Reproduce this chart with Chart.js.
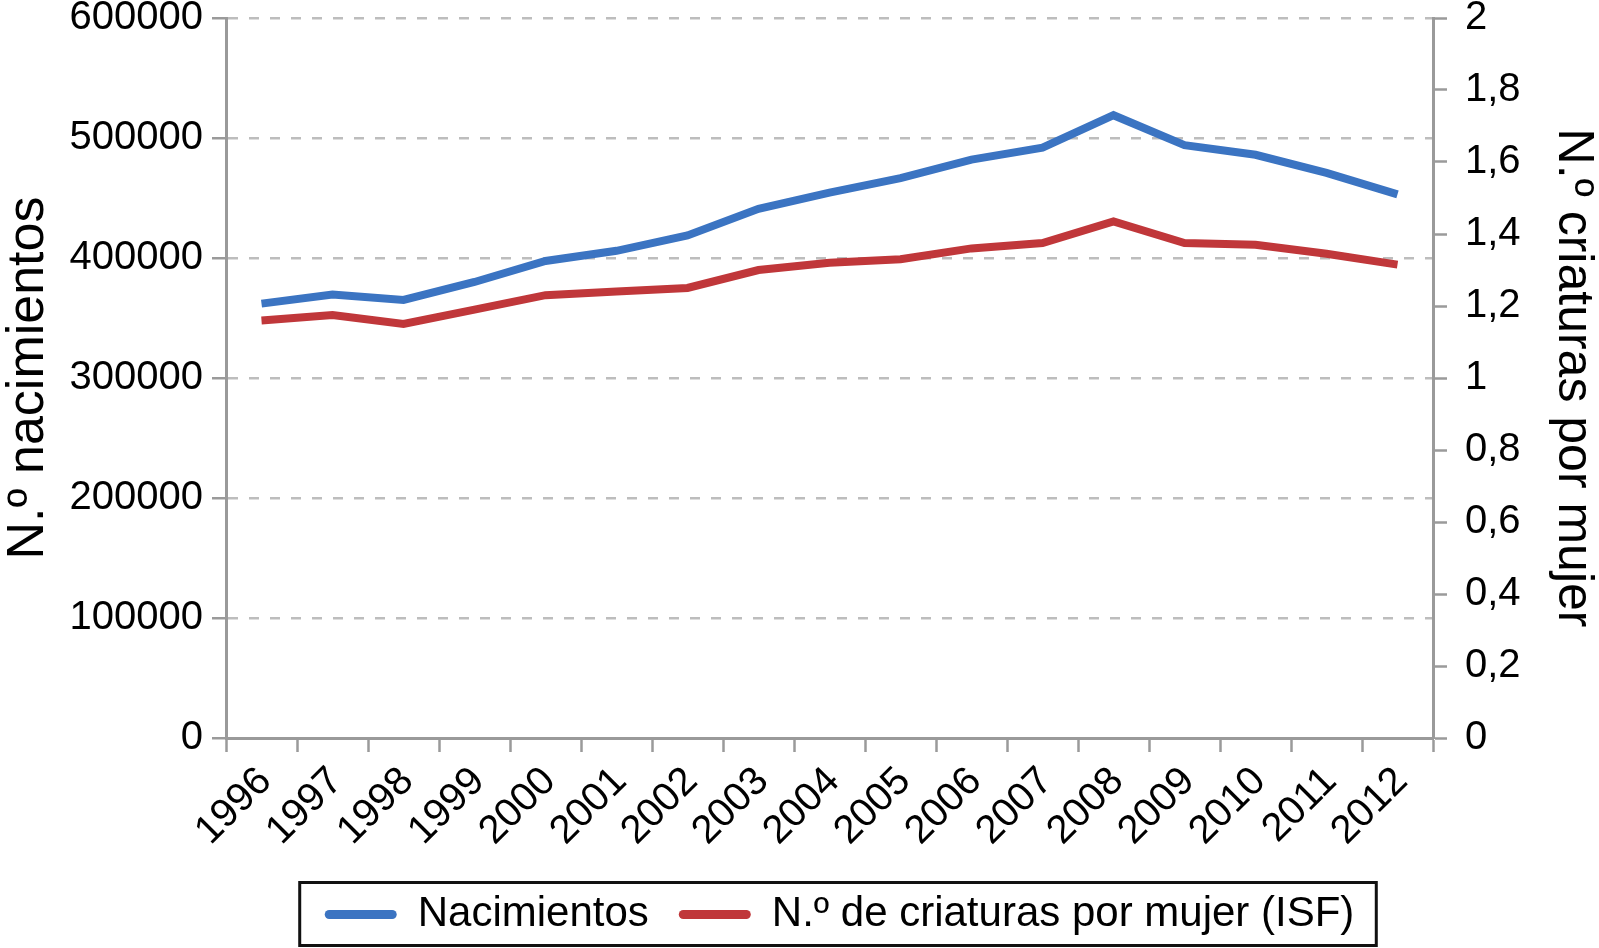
<!DOCTYPE html>
<html>
<head>
<meta charset="utf-8">
<script src="https://cdn.jsdelivr.net/npm/chart.js@4.4.1/dist/chart.umd.min.js"></script>
<style>
  html, body { margin: 0; padding: 0; background: #ffffff; }
</style>
</head>
<body>
<canvas id="chart" width="1599" height="948"></canvas>
<script>
// data
const years = ["1996", "1997", "1998", "1999", "2000", "2001", "2002", "2003", "2004",
  "2005", "2006", "2007", "2008", "2009", "2010", "2011", "2012"];
const nacimientos = [362000, 369500, 365000, 380000, 397500, 406000, 418800, 441000, 454500,
  466500, 482000, 492000, 519000, 494000, 486000, 471000, 453000];
const isf = [1.16, 1.175, 1.15, 1.19, 1.23, 1.24, 1.25, 1.30, 1.32,
  1.33, 1.36, 1.375, 1.435, 1.375, 1.37, 1.345, 1.315];

const leftMax = 600000;
const leftStep = 100000;
const rightMax = 2;
const rightStep = 0.2;

const seriesNames = ["Nacimientos", "N.º de criaturas por mujer (ISF)"];
const leftTitle = "N.º nacimientos";
const rightTitle = "N.º criaturas por mujer";

var colors = {
  blue: "#3b74c2",
  red: "#c0373a",
  axis: "#9a9a9a",
  grid: "#bdbdbd",
};

Chart.defaults.font.family = "'Liberation Sans', Arial, sans-serif";
Chart.defaults.color = "#000";

// the vertical axes keep a fixed width and ask for no extra room for their labels
function fixWidth(w) {
  return (scale) => {
    scale.width = w;
    scale.paddingTop = 0;
    scale.paddingBottom = 0;
  };
}

// frame around the legend, and a small nudge to the right like the original
const legendFrame = {
  id: "legendFrame",
  afterLayout(chart) {
    chart.legend.left += 40;
    chart.legend.right += 40;
  },
  afterDraw(chart) {
    const lg = chart.legend;
    const ctx = chart.ctx;
    const pad = lg.options.labels.padding;
    const size = lg.options.labels.font.size;
    const startX = (lg.left + pad + lg.right - lg.lineWidths[0]) / 2;
    const endX = startX + lg.lineWidths[0] - pad;
    const midY = lg.top + pad + size / 2;
    ctx.save();
    ctx.strokeStyle = "#111";
    ctx.lineWidth = 3;
    ctx.strokeRect(startX - 25, midY - 32, endX - startX + 47, 63);
    ctx.restore();
  },
};

new Chart(document.getElementById("chart"), {
  type: "line",
  data: {
    labels: years,
    datasets: [
      {
        label: seriesNames[0],
        data: nacimientos,
        yAxisID: "y",
        borderColor: colors.blue,
        backgroundColor: colors.blue,
        borderWidth: 8,
        pointRadius: 0,
        tension: 0,
      },
      {
        label: seriesNames[1],
        data: isf,
        yAxisID: "y1",
        borderColor: colors.red,
        backgroundColor: colors.red,
        borderWidth: 8,
        pointRadius: 0,
        tension: 0,
      },
    ],
  },
  options: {
    responsive: false,
    animation: false,
    layout: {
      autoPadding: false,
      padding: { top: 18, bottom: 2.5, left: 0, right: 0 },
    },
    scales: {
      x: {
        offset: true,
        afterFit: (scale) => {
          scale.height = 125.5;
          scale.paddingLeft = 0;
          scale.paddingRight = 0;
        },
        grid: {
          offset: true,
          drawOnChartArea: false,
          tickLength: 14,
          tickWidth: 2.5,
          tickColor: colors.axis,
        },
        border: { color: colors.axis, width: 3 },
        ticks: {
          autoSkip: false,
          maxRotation: 45,
          minRotation: 45,
          padding: 6,
          labelOffset: 4,
          font: { size: 40 },
        },
      },
      y: {
        position: "left",
        min: 0,
        max: leftMax,
        afterFit: fixWidth(226),
        grid: {
          color: (c) => (c.tick && c.tick.value === 0 ? "rgba(0,0,0,0)" : colors.grid),
          lineWidth: 2.5,
          tickLength: 14,
          tickWidth: 2.5,
          tickColor: colors.axis,
          tickBorderDash: [],
        },
        border: { color: colors.axis, width: 3, dash: [10, 11] },
        ticks: {
          stepSize: leftStep,
          padding: 9,
          font: { size: 40 },
          callback: (v) => String(v),
        },
        title: {
          display: true,
          text: leftTitle,
          font: { size: 52, lineHeight: 1 },
          padding: { top: 3, bottom: 0 },
        },
      },
      y1: {
        position: "right",
        min: 0,
        max: rightMax,
        afterFit: fixWidth(166),
        grid: {
          drawOnChartArea: false,
          tickLength: 14,
          tickWidth: 2.5,
          tickColor: colors.axis,
        },
        border: { color: colors.axis, width: 3 },
        ticks: {
          stepSize: rightStep,
          padding: 18,
          font: { size: 40 },
          callback: (v) => String(Math.round(v * 10) / 10).replace(".", ","),
        },
        title: {
          display: true,
          text: rightTitle,
          font: { size: 50, lineHeight: 1 },
          padding: { top: 1, bottom: 0 },
        },
      },
    },
    plugins: {
      tooltip: { enabled: false },
      legend: {
        position: "bottom",
        labels: {
          boxWidth: 72,
          boxHeight: 9,
          padding: 30,
          useBorderRadius: true,
          borderRadius: 4.5,
          color: "#000",
          font: { size: 42 },
          generateLabels: (chart) =>
            Chart.defaults.plugins.legend.labels
              .generateLabels(chart)
              .map((item) => ({ ...item, lineWidth: 0 })),
        },
      },
    },
  },
  plugins: [legendFrame],
});
</script>
</body>
</html>
